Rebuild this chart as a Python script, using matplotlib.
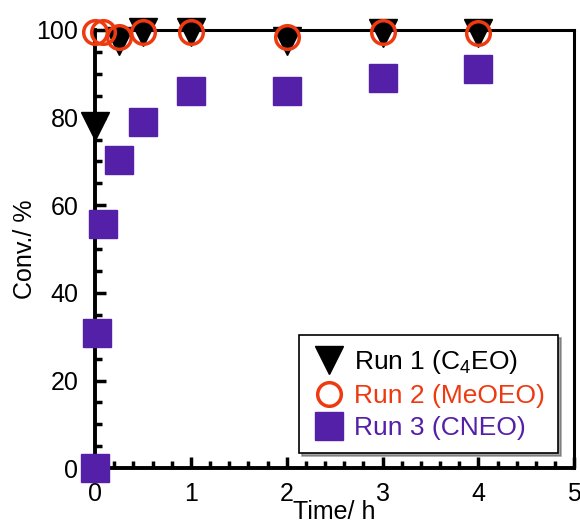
import matplotlib.pyplot as plt
from matplotlib.ticker import MultipleLocator

plt.rcParams['font.family'] = ['Liberation Sans', 'DejaVu Sans']
plt.rcParams['mathtext.fontset'] = 'custom'
plt.rcParams['mathtext.rm'] = 'Liberation Sans'

# Run 1 (C4EO)
t1 = [0, 0.25, 0.5, 1, 2, 3, 4]
c1 = [78, 97.5, 99.5, 99.5, 97.5, 99.3, 99.3]
# Run 2 (MeOEO)
t2 = [0, 0.083, 0.25, 0.5, 1, 2, 3, 4]
c2 = [99.5, 99.5, 98.4, 99.5, 99.5, 98.4, 99.5, 99.3]
# Run 3 (CNEO)
t3 = [0, 0.017, 0.083, 0.25, 0.5, 1, 2, 3, 4]
c3 = [0, 30.8, 55.7, 70.3, 79, 86, 86, 89, 91]

purple = '#5420A8'
orange = '#EE3A10'

fig = plt.figure(figsize=(5.8, 5.26), dpi=100)
ax = fig.add_axes([0.164, 0.110, 0.826, 0.833])

ax.plot(t3, c3, 's', color=purple, markersize=20, clip_on=False, zorder=3,
        label='Run 3 (CNEO)')
ax.plot(t1, c1, 'v', color='black', markersize=20, clip_on=False, zorder=4,
        label='Run 1 (C$_4$EO)')
ax.plot(t2, c2, 'o', markerfacecolor='none', markeredgecolor=orange,
        markeredgewidth=2.5, markersize=17, clip_on=False, zorder=5,
        label='Run 2 (MeOEO)')

ax.set_xlim(0, 5)
ax.set_ylim(0, 100)
ax.xaxis.set_major_locator(MultipleLocator(1))
ax.xaxis.set_minor_locator(MultipleLocator(0.2))
ax.yaxis.set_major_locator(MultipleLocator(20))
ax.yaxis.set_minor_locator(MultipleLocator(5))
ax.tick_params(which='both', direction='in', width=2.5, labelsize=18,
               top=False, right=False)
ax.tick_params(which='major', length=8)
ax.tick_params(axis='y', which='major', pad=12)
ax.tick_params(axis='x', which='major', pad=10)
ax.tick_params(which='minor', length=5)
ax.spines['left'].set_linewidth(2.8)
ax.spines['bottom'].set_linewidth(2.8)
ax.spines['top'].set_linewidth(2.2)
ax.spines['right'].set_linewidth(2.2)

ax.set_xlabel('Time/ h', fontsize=18, labelpad=-4)
ax.set_ylabel('Conv./ %', fontsize=18, labelpad=0)

h, l = ax.get_legend_handles_labels()
order = [1, 2, 0]
leg = ax.legend([h[i] for i in order], [l[i] for i in order],
                loc='lower right', bbox_to_anchor=(0.967, 0.034),
                borderaxespad=0, numpoints=1, fontsize=19, frameon=True,
                fancybox=False, shadow=True, edgecolor='black',
                handletextpad=0.3, labelspacing=0.3, borderpad=0.5,
                handlelength=1.3)
leg.get_frame().set_linewidth(1.2)
for txt, col in zip(leg.get_texts(), ['black', orange, purple]):
    txt.set_color(col)

fig.savefig('out.png', dpi=100)
